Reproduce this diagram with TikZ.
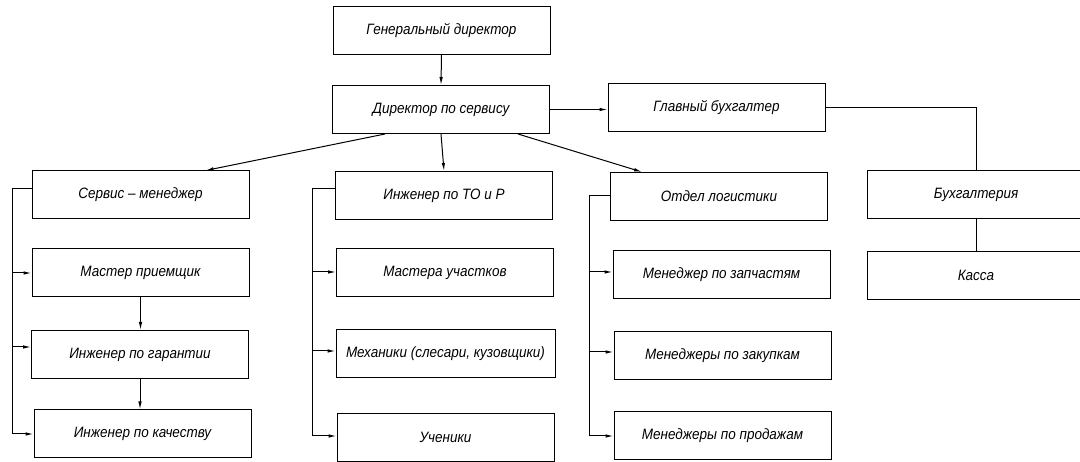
\documentclass[tikz,border=0pt]{standalone}
\usepackage{fontspec}
\setmainfont{Liberation Sans}[FakeStretch=0.9]
\usetikzlibrary{arrows.meta,calc}
\begin{document}
\begin{tikzpicture}[x=1pt,y=-1pt,
  box/.style={draw,line width=1pt,minimum width=217pt,minimum height=48pt,inner sep=0pt,font=\fontsize{15}{17}\selectfont\itshape},
  con/.style={line width=1pt},
  arr/.style={line width=1pt,-{Latex[length=8pt,width=3.5pt]}}]
\useasboundingbox (0,0) rectangle (1080,462);
\clip (0,0) rectangle (1080,462);
\node[box] (gd) at (441.5,30.5) {Генеральный директор};
\node[box] (ds) at (441,109.5) {Директор по сервису};
\node[box] (gb) at (716.5,108) {Главный бухгалтер};
\node[box] (sm) at (140.5,195) {Сервис – менеджер};
\node[box] (mp) at (140.5,273) {Мастер приемщик};
\node[box] (ig) at (140,354.5) {Инженер по гарантии};
\node[box] (ik) at (142.5,434) {Инженер по качеству};
\node[box] (it) at (444,195.5) {Инженер по ТО и Р};
\node[box] (mu) at (445,273) {Мастера участков};
\node[box,minimum width=219pt] (mh) at (445.5,354) {Механики (слесари, кузовщики)};
\node[box] (uc) at (445.5,437.5) {Ученики};
\node[box] (ol) at (719,196.5) {Отдел логистики};
\node[box] (mz) at (721.5,274.5) {Менеджер по запчастям};
\node[box] (mk) at (722.5,355.5) {Менеджеры по закупкам};
\node[box] (mpr) at (722.5,436) {Менеджеры по продажам};
\node[box] (bux) at (976,195) {Бухгалтерия};
\node[box] (kas) at (976,275.5) {Касса};
% top
\draw[arr] (gd.south) -- (ds.north);
\draw[arr] (ds.east) -- (ds.east -| gb.west);
\draw[con] (gb.east) -| (bux.north);
\draw[con] (bux.south) -- (kas.north);
\draw[arr] ($(ds.south west)+(53,0)$) -- ($(sm.north west)+(174,0)$);
\draw[arr] (ds.south) -- (it.north);
\draw[arr] ($(ds.south west)+(186,0)$) -- ($(ol.north west)+(32,0)$);
% left group
\coordinate (lt) at (12,189);
\draw[con] (sm.west |- lt) -- (lt) -- (12,434);
\draw[arr] (12,273) -- (mp.west |- 0,273);
\draw[arr] (12,347) -- (ig.west |- 0,347);
\draw[arr] (12,434) -- (ik.west |- 0,434);
\draw[arr] (mp.south) -- (mp.south |- ig.north);
\draw[arr] (ig.south) -- (ig.south |- ik.north);
% middle group
\coordinate (mt) at (312,189);
\draw[con] (it.west |- mt) -- (mt) -- (312,436);
\draw[arr] (312,272) -- (mu.west |- 0,272);
\draw[arr] (312,351) -- (mh.west |- 0,351);
\draw[arr] (312,436) -- (uc.west |- 0,436);
% right group
\coordinate (rt) at (589,196);
\draw[con] (ol.west |- rt) -- (rt) -- (589,436);
\draw[arr] (589,272) -- (mz.west |- 0,272);
\draw[arr] (589,352) -- (mk.west |- 0,352);
\draw[arr] (589,436) -- (mpr.west |- 0,436);
\end{tikzpicture}
\end{document}
